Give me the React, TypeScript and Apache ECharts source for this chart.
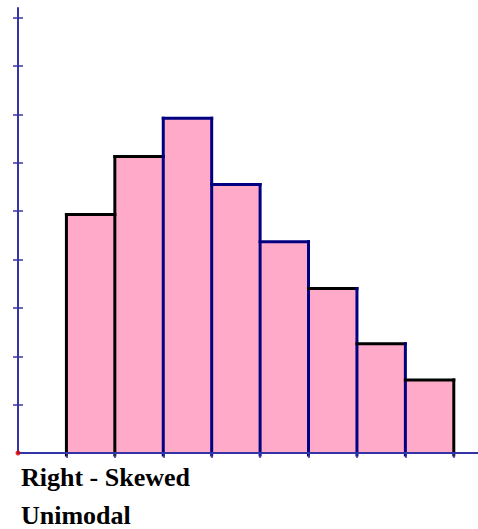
import React, { useEffect, useRef } from "react";
import * as echarts from "echarts";

// Histogram data (bin edges on the x axis, heights)
const binStarts = [1, 2, 3, 4, 5, 6, 7, 8];
const binEnds = [2, 3, 4, 5, 6, 7, 8, 9];
const frequencies = [4.93, 6.13, 6.92, 5.55, 4.37, 3.4, 2.26, 1.51];
const xTickValues = [1, 2, 3, 4, 5, 6, 7, 8, 9];
const yTickValues = [1, 2, 3, 4, 5, 6, 7, 8, 9];
const captions = ["Right - Skewed", "Unimodal"];

// Edge styles
const NAVY = "#000080";
const BLACK = "#000000";
const topEdgeColors = [BLACK, BLACK, NAVY, NAVY, NAVY, BLACK, BLACK, BLACK];
const leftEdgeColors = [BLACK, BLACK, NAVY, NAVY, NAVY, NAVY, NAVY, NAVY];
const lastRightEdgeColor = BLACK;
const FILL = "#ffaac8";
const AXIS = "#3434a6";
const captionCenters = [477.5, 515.5];

export default function App() {
  const ref = useRef<HTMLDivElement>(null);
  useEffect(() => {
    if (!ref.current) return;
    const chart = echarts.init(ref.current, null, { renderer: "svg" });
    const barData = binStarts.map((s, i) => [s, binEnds[i], frequencies[i], i]);
    const n = frequencies.length;

    const option: any = {
      animation: false,
      grid: { left: 18, right: 0, top: 8, bottom: 76 },
      xAxis: {
        type: "value",
        min: 0,
        max: 9.5,
        z: 5,
        axisLine: { show: true, lineStyle: { color: AXIS, width: 2 } },
        axisTick: {
          show: true,
          length: 5,
          inside: false,
          customValues: xTickValues,
          lineStyle: { color: AXIS, width: 1.5 },
        },
        axisLabel: { show: false },
        splitLine: { show: false },
      },
      yAxis: [
        {
          type: "value",
          min: 0,
          max: 9.2,
          position: "left",
          z: 5,
          axisLine: { show: true, lineStyle: { color: AXIS, width: 2 } },
          axisTick: {
            show: true,
            length: 5,
            inside: false,
            customValues: yTickValues,
            lineStyle: { color: AXIS, width: 1.5 },
          },
          axisLabel: { show: false },
          splitLine: { show: false },
        },
        {
          type: "value",
          min: 0,
          max: 9.2,
          position: "left",
          offset: 0,
          z: 5,
          alignTicks: false,
          axisLine: { show: false },
          axisTick: {
            show: true,
            length: 5,
            inside: true,
            customValues: yTickValues,
            lineStyle: { color: AXIS, width: 1.5 },
          },
          axisLabel: { show: false },
          splitLine: { show: false },
        },
      ],
      series: [
        {
          type: "custom",
          z: 2,
          data: barData,
          encode: { x: [0, 1], y: 2 },
          renderItem: (params: any, api: any) => {
            const s = api.value(0);
            const e = api.value(1);
            const v = api.value(2);
            const p0 = api.coord([s, v]);
            const p1 = api.coord([e, 0]);
            return {
              type: "rect",
              shape: { x: p0[0], y: p0[1], width: p1[0] - p0[0], height: p1[1] - p0[1] },
              style: { fill: FILL, stroke: null },
            };
          },
        },
        {
          type: "custom",
          z: 3,
          data: barData,
          encode: { x: [0, 1], y: 2 },
          renderItem: (params: any, api: any) => {
            const s = api.value(0);
            const e = api.value(1);
            const v = api.value(2);
            const i = api.value(3);
            const prev = i > 0 ? frequencies[i - 1] : 0;
            const bl = api.coord([s, 0]);
            const tl = api.coord([s, Math.max(v, prev)]);
            const a = api.coord([s, v]);
            const b = api.coord([e, v]);
            const br = api.coord([e, 0]);
            const children: any[] = [
              {
                type: "line",
                shape: { x1: bl[0], y1: bl[1] + 2, x2: tl[0], y2: tl[1] },
                style: { stroke: leftEdgeColors[i], lineWidth: 3, lineCap: "square" },
              },
              {
                type: "line",
                shape: { x1: a[0], y1: a[1], x2: b[0], y2: b[1] },
                style: { stroke: topEdgeColors[i], lineWidth: 3, lineCap: "square" },
              },
            ];
            if (i === n - 1) {
              children.push({
                type: "line",
                shape: { x1: br[0], y1: br[1] + 2, x2: b[0], y2: b[1] },
                style: { stroke: lastRightEdgeColor, lineWidth: 3, lineCap: "square" },
              });
            }
            return { type: "group", children };
          },
        },
        {
          type: "scatter",
          z: 10,
          symbol: "circle",
          symbolSize: 5,
          itemStyle: { color: "#e00000" },
          data: [[0, 0]],
        },
      ],
      graphic: captions.map((t, k) => ({
        type: "text",
        x: 21,
        y: captionCenters[k],
        style: {
          text: t,
          font: "bold 26px 'Liberation Serif', 'Times New Roman', serif",
          lineHeight: 20,
          verticalAlign: "middle",
          align: "left",
          fill: "#000",
        },
      })),
    };
    chart.setOption(option);
    return () => chart.dispose();
  }, []);
  return (
    <div
      ref={ref}
      style={{ position: "fixed", left: 0, top: 0, width: 478, height: 529, background: "#fff" }}
    />
  );
}
